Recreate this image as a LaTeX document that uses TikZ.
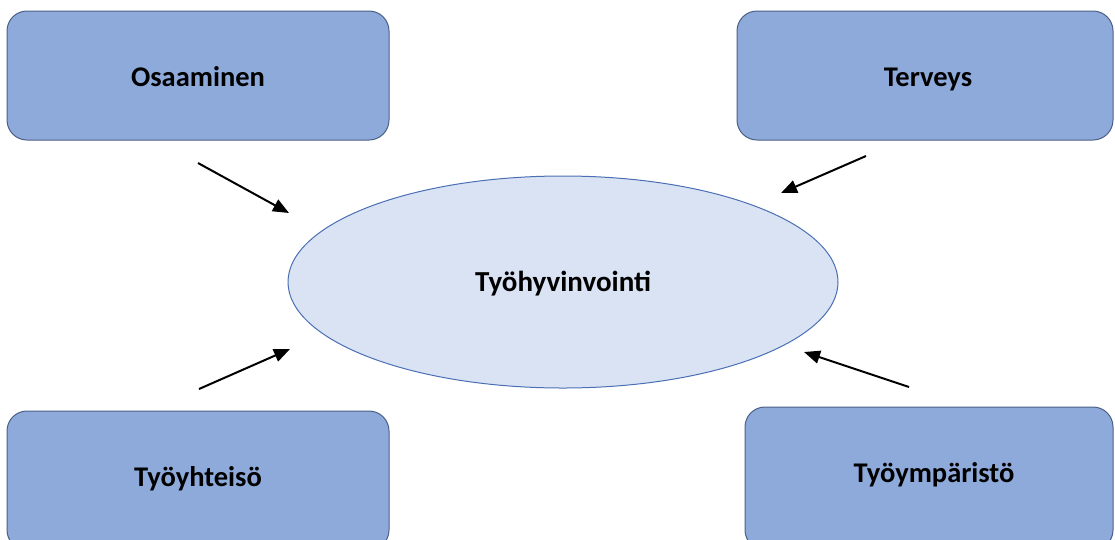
\documentclass[tikz,border=0pt]{standalone}
\usepackage{fontspec}
\setmainfont{Carlito}
\usetikzlibrary{arrows.meta,shapes.geometric}
\definecolor{boxfill}{HTML}{8EAADB}
\definecolor{boxline}{HTML}{4A5F86}
\definecolor{ellfill}{HTML}{DAE3F3}
\definecolor{ellline}{HTML}{4A6FB5}
\tikzset{
  factor/.style={draw=boxline, line width=1pt, fill=boxfill, rounded corners=20pt,
    minimum width=382pt, minimum height=129pt, inner sep=0pt,
    text height=22pt, text depth=0pt,
    font=\fontsize{28.5}{32}\selectfont\bfseries},
  core/.style={ellipse, draw=ellline, line width=1pt, fill=ellfill,
    minimum width=550pt, minimum height=212pt, inner sep=0pt,
    text height=18pt, text depth=0pt,
    font=\fontsize{29}{32}\selectfont\bfseries},
  influence/.style={line width=2pt, -{Triangle[length=16pt,width=13pt]}}
}
\begin{document}
\begin{tikzpicture}[x=1pt,y=-1pt]
\useasboundingbox (0,0) rectangle (1115,539);
\clip (0,0) rectangle (1115,539);
\fill[white] (0,0) rectangle (1115,539);
\node[factor] (osa) at (198,75.5) {Osaaminen};
\node[factor, minimum width=376pt] (ter) at (925,75.5) {\hspace*{6pt}Terveys};
\node[factor, minimum height=139pt, text height=12pt] (yht) at (198,480.5) {Työyhteisö};
\node[factor, minimum width=368pt, minimum height=143pt, text height=8pt] (ymp) at (929,478.5) {\hspace*{10pt}Työympäristö};
\node[core] (hyv) at (563,282) {Työhyvinvointi};
\coordinate (a1s) at (198,163);
\coordinate (a1e) at (289,213);
\coordinate (a2s) at (866,156);
\coordinate (a2e) at (781,193);
\coordinate (a3s) at (199,389);
\coordinate (a3e) at (290,349);
\coordinate (a4s) at (909,387);
\coordinate (a4e) at (804,352);
\draw[influence] (a1s) -- (a1e);
\draw[influence] (a2s) -- (a2e);
\draw[influence] (a3s) -- (a3e);
\draw[influence] (a4s) -- (a4e);
\end{tikzpicture}
\end{document}
